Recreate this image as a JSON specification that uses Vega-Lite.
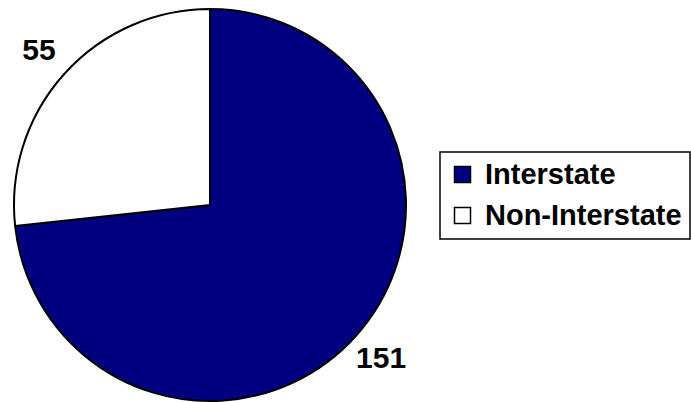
{
  "$schema": "https://vega.github.io/schema/vega-lite/v6.json",
  "width": 420,
  "height": 410,
  "padding": 0,
  "autosize": {"type": "pad"},
  "background": "white",
  "view": {"stroke": null},
  "data": {
    "values": [
      {"category": "Interstate", "value": 151, "order": 1},
      {"category": "Non-Interstate", "value": 55, "order": 2}
    ]
  },
  "encoding": {
    "theta": {"field": "value", "type": "quantitative", "stack": true},
    "order": {"field": "order", "type": "quantitative"}
  },
  "layer": [
    {
      "mark": {"type": "arc", "outerRadius": 196, "stroke": "black", "strokeWidth": 2},
      "encoding": {
        "color": {
          "field": "category",
          "type": "nominal",
          "scale": {"domain": ["Interstate", "Non-Interstate"], "range": ["#000080", "#ffffff"]},
          "legend": {
            "orient": "none",
            "legendX": 440,
            "legendY": 152,
            "title": null,
            "symbolType": "square",
            "symbolSize": 256,
            "symbolStrokeColor": "black",
            "symbolStrokeWidth": 1.5,
            "symbolOpacity": 1,
            "labelFont": "Liberation Sans",
            "labelFontWeight": "bold",
            "labelFontSize": 29,
            "labelLimit": 400,
            "labelColor": "black",
            "labelOffset": 8,
            "rowPadding": 11,
            "padding": 8,
            "strokeColor": "black",
            "fillColor": "white",
            "encode": {"legend": {"update": {"strokeWidth": {"value": 1.5}}}}
          }
        }
      }
    },
    {
      "mark": {"type": "text", "radius": 230, "font": "Liberation Sans", "fontWeight": "bold", "fontSize": 30},
      "encoding": {
        "text": {"field": "value", "type": "quantitative"},
        "color": {"value": "black"}
      }
    }
  ]
}
